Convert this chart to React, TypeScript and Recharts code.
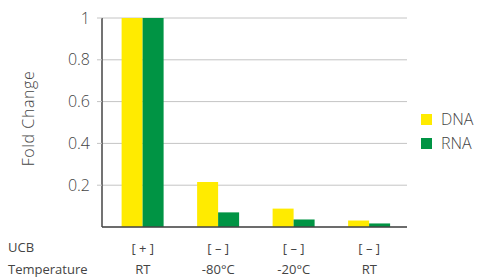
import { BarChart, Bar, XAxis, YAxis, CartesianGrid } from 'recharts';

const UCB = ['[ + ]', '[ – ]', '[ – ]', '[ – ]'];
const TEMPERATURE = ['RT', '-80°C', '-20°C', 'RT'];
const DNA = [1, 0.215, 0.088, 0.031];
const RNA = [1, 0.07, 0.036, 0.017];
const Y_TICKS = [0.2, 0.4, 0.6, 0.8, 1];
const SERIES = [
  { key: 'DNA', color: '#ffeb00' },
  { key: 'RNA', color: '#009444' },
];

const FONT = '"Open Sans", sans-serif';
const TEXT = '#444';

const data = UCB.map((ucb, i) => ({
  key: String(i),
  ucb,
  temp: TEMPERATURE[i],
  DNA: DNA[i],
  RNA: RNA[i],
}));

function XTick(props: any) {
  const { x, y, payload } = props;
  const row = data[payload.index];
  return (
    <g>
      <text x={x} y={y + 18} textAnchor="middle" fontSize={13} fill={TEXT} fontFamily={FONT}>
        {row.ucb}
      </text>
      <text x={x} y={y + 39} textAnchor="middle" fontSize={13} fill={TEXT} fontFamily={FONT}>
        {row.temp}
      </text>
    </g>
  );
}

export default function App() {
  return (
    <div style={{ position: 'absolute', left: 0, top: 0, width: 479, height: 278, background: '#fff' }}>
      <BarChart
        width={479}
        height={278}
        data={data}
        margin={{ top: 18, right: 72, left: 0, bottom: 0 }}
        barCategoryGap="22%"
        barGap={0}
      >
        <CartesianGrid horizontal vertical={false} stroke="#c4c4c4" />
        <XAxis
          dataKey="key"
          height={51}
          padding={{ left: 3, right: 0 }}
          axisLine={{ stroke: '#444', strokeWidth: 1.5 }}
          tickLine={false}
          tick={<XTick />}
          interval={0}
        />
        <YAxis
          width={102}
          domain={[0, 1]}
          ticks={Y_TICKS}
          axisLine={{ stroke: '#444', strokeWidth: 1.5 }}
          tickLine={{ stroke: '#c4c4c4' }}
          tickSize={5}
          tickMargin={7}
          tick={{ fontSize: 16, fill: TEXT, fontFamily: FONT, fontWeight: 300 }}
          label={{
            value: 'Fold Change',
            angle: -90,
            position: 'center',
            dx: -23,
            dy: -4,
            style: { fontSize: 16, fill: TEXT, fontFamily: FONT, fontWeight: 300, letterSpacing: 0.6 },
          }}
        />
        {SERIES.map((s) => (
          <Bar key={s.key} dataKey={s.key} fill={s.color} isAnimationActive={false} />
        ))}
      </BarChart>
      <div style={{ position: 'absolute', left: 421, top: 107 }}>
        {SERIES.map((s) => (
          <div key={s.key} style={{ display: 'flex', alignItems: 'center', height: 24 }}>
            <span style={{ width: 11, height: 11, background: s.color, marginRight: 9 }} />
            <span style={{ fontSize: 16, color: TEXT, fontFamily: FONT, fontWeight: 300 }}>{s.key}</span>
          </div>
        ))}
      </div>
      <div style={{ position: 'absolute', left: 8, top: 236, fontSize: 13, color: TEXT, fontFamily: FONT, lineHeight: '22px' }}>
        <div>UCB</div>
        <div>Temperature</div>
      </div>
    </div>
  );
}
